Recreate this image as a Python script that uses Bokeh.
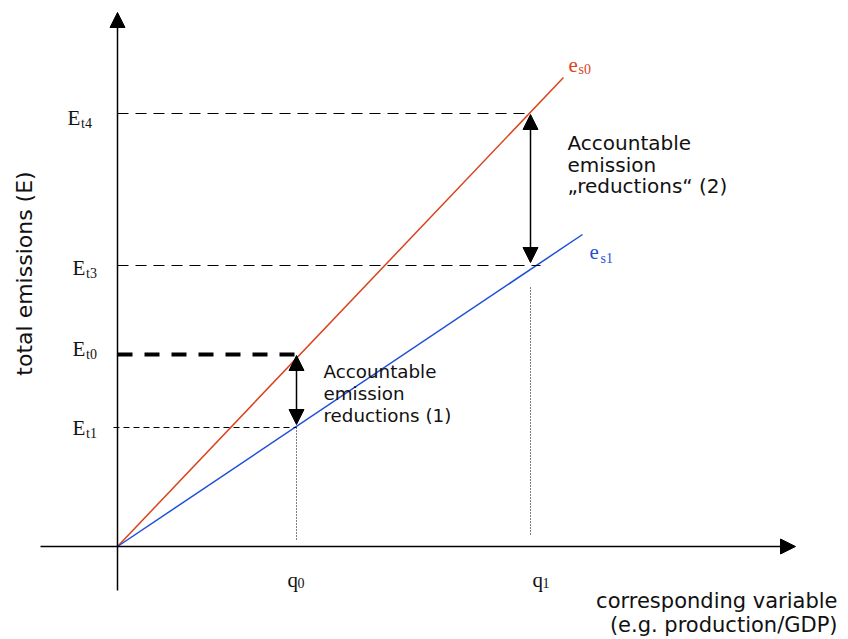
import math
from bokeh.plotting import figure
from bokeh.models import Range1d, Arrow, NormalHead
from bokeh.core.properties import value
from bokeh.embed import file_html
from bokeh.resources import INLINE

# ---------------- data (abstract units, origin of the diagram at (0, 0)) ----------------
q_subs = ["0", "1"]
q_values = [1.79, 4.13]

E_subs = ["t4", "t3", "t0", "t1"]
E_values = [4.33, 2.81, 1.92, 1.19]

es0_x = [0.0, 4.46]
es0_y = [0.0, 4.69]
es1_x = [0.0, 4.65]
es1_y = [0.0, 3.12]

note1_lines = ["Accountable", "emission", "reductions (1)"]
note2_lines = ["Accountable", "emission", "\u201ereductions\u201c (2)"]
xlabel_lines = ["corresponding variable", "(e.g. production/GDP)"]
ylabel = "total emissions (E)"

# ---------------- layout ----------------
W, H = 840, 639
PX = 100.0  # pixels per unit
XMIN = -1.17
YMAX = 5.46

RED = "#d8431c"
BLUE = "#1f4fd8"
INK = "#111111"
SANS = value("DejaVu Sans")
SERIF = value("Liberation Serif")

p = figure(width=W, height=H,
           x_range=Range1d(XMIN, XMIN + W / PX),
           y_range=Range1d(YMAX - H / PX, YMAX),
           output_backend="svg", toolbar_location=None,
           min_border=0, x_axis_location=None, y_axis_location=None)
p.grid.visible = False
p.outline_line_color = None
p.background_fill_color = "white"
p.border_fill_color = "white"

Et4, Et3, Et0, Et1 = E_values
q0, q1 = q_values

# axes with arrows
p.add_layout(Arrow(end=NormalHead(size=15, fill_color="black", line_color="black"),
                   x_start=0, y_start=-0.44, x_end=0, y_end=5.34,
                   line_width=1.5, line_color="black"))
p.add_layout(Arrow(end=NormalHead(size=15, fill_color="black", line_color="black"),
                   x_start=-0.77, y_start=0, x_end=6.78, y_end=0,
                   line_width=1.5, line_color="black"))

# emission lines
p.line(es0_x, es0_y, line_color=RED, line_width=1.5)
p.line(es1_x, es1_y, line_color=BLUE, line_width=1.5)

# dashed level lines
p.line([0, q1], [Et4, Et4], line_color="black", line_width=1.2, line_dash="11 7")
p.line([0, q1 + 0.10], [Et3, Et3], line_color="black", line_width=1.2, line_dash="11 7")
p.line([0, q0], [Et0, Et0], line_color="black", line_width=4, line_dash="15 12")
p.line([-0.04, q0], [Et1, Et1], line_color="black", line_width=1.2, line_dash="6 4")

# dotted verticals
p.line([q0, q0], [Et1, 0.06], line_color="black", line_width=1, line_dash="1 2")
p.line([q1, q1], [Et3 - 0.22, 0.10], line_color="black", line_width=1, line_dash="1 2")

# double-headed arrows
for xq, ya, yb in [(q0, Et0, Et1), (q1, Et4, Et3)]:
    p.add_layout(Arrow(start=NormalHead(size=15, fill_color="black", line_color="black"),
                       end=NormalHead(size=15, fill_color="black", line_color="black"),
                       x_start=xq, y_start=ya - 0.01, x_end=xq, y_end=yb + 0.03,
                       line_width=1.5, line_color="black"))

# E labels (serif, with subscript)
E_lab_x = [-0.50, -0.45, -0.45, -0.45]
E_lab_dy = [-0.04, -0.02, 0.055, 0.0]
ex = E_lab_x
ey = [v + d for v, d in zip(E_values, E_lab_dy)]
p.text(ex, ey, text=["E"] * 4, text_font=SERIF, text_font_size="21px",
       text_align="left", text_baseline="alphabetic", text_color=INK)
p.text([x + 0.135 for x in ex], [y - 0.055 for y in ey], text=E_subs, text_font=SERIF,
       text_font_size="14px", text_align="left", text_baseline="alphabetic", text_color=INK)

# line labels e_s0 / e_s1
p.text([4.51, 4.72], [4.82, 2.95], text=["e", "e"], text_font=SERIF, text_font_size="21px",
       text_align="left", text_baseline="alphabetic", text_color=[RED, BLUE])
p.text([4.61, 4.83], [4.77, 2.88], text=["s0", "s1"], text_font=SERIF, text_font_size="14px",
       text_align="left", text_baseline="alphabetic", text_color=[RED, BLUE])

# q labels
q_dx = [-0.09, 0.02]
qx = [v + d for v, d in zip(q_values, q_dx)]
p.text(qx, [-0.33, -0.33], text=["q", "q"], text_font=SERIF, text_font_size="21px",
       text_align="left", text_baseline="alphabetic", text_color=INK)
p.text([x + 0.10 for x in qx], [-0.36, -0.36], text=q_subs, text_font=SERIF,
       text_font_size="14px", text_align="left", text_baseline="alphabetic", text_color=INK)

# annotations
p.text([2.06] * 3, [1.75, 1.53, 1.31], text=note1_lines, text_font=SANS, text_font_size="18.3px",
       text_align="left", text_baseline="alphabetic", text_color=INK)
p.text([4.50] * 3, [4.04, 3.82, 3.61], text=note2_lines, text_font=SANS, text_font_size="20px",
       text_align="left", text_baseline="alphabetic", text_color=INK)

# axis titles
p.text([7.20, 7.20], [-0.54, -0.78], text=xlabel_lines, text_font=SANS, text_font_size="21px",
       text_align="right", text_baseline="alphabetic", text_color=INK)
p.text([-0.93], [2.73], text=[ylabel], angle=math.pi / 2, text_font=SANS,
       text_font_size="22px", text_align="center", text_baseline="alphabetic", text_color=INK)

open("out.html", "w").write(file_html(p, INLINE))
